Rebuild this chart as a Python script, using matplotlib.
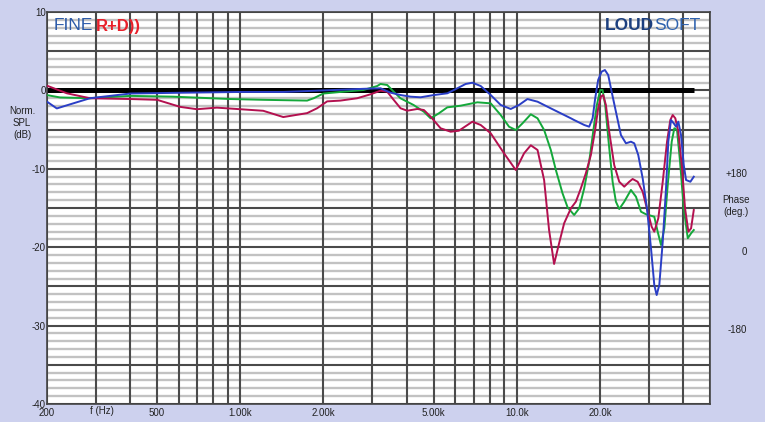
import numpy as np
import matplotlib.pyplot as plt
from matplotlib.ticker import FixedLocator, NullFormatter

plt.rcParams['font.family'] = ['Liberation Sans', 'DejaVu Sans']

# ---------- data (frequency in Hz, level in dB) ----------
ref_f = [200, 43700]
ref_db = [0, 0]

blue_f = [200, 217, 249, 286, 400, 606, 1000, 1431, 2000, 2790, 3216, 3495, 3800, 4129,
          4490, 5017, 5609, 6097, 6535, 6911, 7406, 8051, 8750, 9512, 10190, 10930,
          11890, 12920, 14050, 15700, 16130, 17540, 18280, 18810, 19220, 19700, 20270,
          20840, 21420, 22040, 22840, 23810, 24830, 25880, 26610, 27510, 28540, 29580,
          30590, 31440, 32070, 32780, 33730, 34670, 35330, 36140, 36970, 37680, 38400,
          39280, 40180, 40960, 42460, 43680]
blue_db = [-1.44, -2.3, -1.65, -1.0, -0.4, -0.3, -0.2, -0.2, 0.0, 0.2, 0.27, -0.29, -0.59, -0.80,
           -0.88, -0.59, -0.37, 0.27, 0.82, 0.98, 0.56, -0.59, -1.86, -2.37, -1.86, -1.10,
           -1.44, -2.08, -2.72, -3.56, -3.78, -4.41, -4.63, -3.56, -1.01, 1.33, 2.39,
           2.60, 1.96, -0.17, -2.72, -5.69, -6.75, -6.54, -6.75, -8.24, -11.21, -15.04,
           -20.14, -24.82, -26.1, -24.82, -19.30, -12.49, -6.54, -3.78, -4.20, -4.63, -3.99,
           -5.69, -9.52, -11.43, -11.65, -11.01]

green_f = [200, 223, 286, 400, 572, 920, 1211, 1745, 1843, 1998, 2303, 2790, 3129, 3216,
           3400, 3591, 3800, 4234, 4614, 4880, 5230, 5609, 6268, 7205, 8051, 8750, 9378,
           9917, 10490, 11240, 11890, 12560, 13280, 13850, 14640, 15270, 16130, 16820,
           17540, 18280, 18900, 19490, 20030, 20440, 20890, 21490, 22220, 22840, 23480,
           24480, 25880, 26990, 28140, 29340, 31440, 32340, 33250, 34180, 35160, 36350,
           37150, 37990, 38960, 40180, 41550, 42710, 43680]
green_db = [-0.6, -0.9, -1.0, -0.7, -0.8, -1.1, -1.2, -1.3, -1.0, -0.4, -0.2, 0.05, 0.56, 0.82,
            0.69, -0.17, -1.01, -1.86, -2.72, -3.56, -2.92, -2.16, -1.95, -1.52, -1.65, -3.14,
            -4.63, -5.05, -4.20, -3.05, -3.56, -5.05, -7.60, -10.15, -13.12, -14.91, -15.89,
            -15.04, -12.49, -9.09, -5.27, -1.86, 0.05, 0.05, -1.86, -6.54, -11.65, -14.20,
            -15.13, -14.20, -12.70, -13.56, -15.47, -15.80, -16.11, -18.02, -19.72, -17.59,
            -12.07, -6.54, -4.83, -5.05, -9.09, -15.04, -18.86, -18.23, -17.81]

red_f = [200, 236, 286, 400, 500, 606, 697, 823, 1000, 1211, 1431, 1745, 1896, 2062, 2303,
         2648, 2958, 3216, 3400, 3591, 3800, 4018, 4368, 4614, 4880, 5304, 5767, 6178,
         6911, 7406, 8051, 8995, 9917, 10630, 11240, 11890, 12560, 13090, 13650, 14230,
         14840, 15700, 16360, 17060, 17780, 18540, 19170, 19700, 20150, 20540, 21010,
         21600, 22520, 23480, 24480, 25520, 26250, 27370, 28540, 29760, 30760, 31440,
         32510, 33730, 34960, 35930, 36650, 37460, 38400, 39510, 40620, 41760, 42710, 43680]
red_db = [0.6, -0.37, -1.0, -1.1, -1.2, -2.1, -2.4, -2.2, -2.4, -2.6, -3.4, -2.9, -2.28, -1.4,
          -1.3, -1.0, -0.5, -0.04, -0.17, -1.22, -2.28, -2.59, -2.37, -2.50, -3.35, -4.83,
          -5.27, -5.14, -3.99, -4.41, -5.47, -8.02, -10.15, -8.02, -7.00, -7.60, -11.43,
          -17.81, -22.14, -19.50, -16.95, -15.04, -14.20, -12.49, -10.57, -8.24, -5.27,
          -2.28, -0.80, -0.59, -1.86, -5.27, -9.52, -11.65, -12.28, -11.65, -11.30, -11.65,
          -12.92, -15.47, -17.39, -18.02, -16.31, -11.65, -6.54, -3.78, -3.14, -3.56,
          -5.27, -9.52, -15.04, -18.02, -17.59, -15.26]

x_labels = ['200', '500', '1.00k', '2.00k', '5.00k', '10.0k', '20.0k']
x_label_f = [200, 500, 1000, 2000, 5000, 10000, 20000]
phase_labels = ['+180', '0', '-180']

# ---------- figure ----------
bg = '#cdd1ee'
W, H = 765, 422
fig = plt.figure(figsize=(W / 100, H / 100), dpi=100, facecolor=bg)
ax = fig.add_axes([47 / W, 18 / H, 663 / W, 392 / H])
ax.set_facecolor('white')
ax.set_xscale('log')
ax.set_xlim(200, 50000)
ax.set_ylim(-40, 10)

# grid: every 1 dB light, every 5 dB dark, all frequency lines dark
grid_f = list(range(200, 1000, 100)) + list(range(1000, 10000, 1000)) + list(range(10000, 50001, 10000))
ax.xaxis.set_major_locator(FixedLocator(x_label_f))
ax.xaxis.set_minor_locator(FixedLocator([f for f in grid_f if f not in x_label_f]))
ax.set_xticklabels(x_labels)
ax.xaxis.set_minor_formatter(NullFormatter())
ax.yaxis.set_major_locator(FixedLocator(np.arange(-40, 11, 5)))
ax.yaxis.set_minor_locator(FixedLocator(np.arange(-40, 11, 1)))
ax.set_yticklabels([str(v) if v % 10 == 0 else '' for v in range(-40, 11, 5)])

ax.grid(True, axis='x', which='both', color='#4a4a4a', lw=1.5)
ax.grid(True, axis='y', which='major', color='#4a4a4a', lw=1.5)
ax.grid(True, axis='y', which='minor', color='#c2c2c2', lw=1.7)
ax.set_axisbelow(True)
ax.yaxis.set_zorder(0.4)
ax.xaxis.set_zorder(0.45)
ax.tick_params(which='both', length=0, labelsize=7, colors='#222222')
ax.tick_params(axis='y', pad=1)
ax.tick_params(axis='x', pad=3)
for s in ax.spines.values():
    s.set_color('#444444')
    s.set_linewidth(1.2)

# curves
ax.plot(ref_f, ref_db, color='black', lw=3.6, solid_capstyle='butt', zorder=2)
ax.plot(green_f, green_db, color='#14a83a', lw=1.4, zorder=3, solid_joinstyle='round')
ax.plot(red_f, red_db, color='#b3104f', lw=1.4, zorder=4, solid_joinstyle='round')
ax.plot(blue_f, blue_db, color='#2a3ec6', lw=1.4, zorder=5, solid_joinstyle='round')

# extra axis texts
fig.text(102 / W, 1 - 411 / H, 'f (Hz)', ha='center', va='center', fontsize=7, color='#222222')
fig.text(22 / W, 1 - 123 / H, 'Norm.\nSPL\n(dB)', ha='center', va='center',
         fontsize=7, color='#222222', linespacing=1.2)
for lab, yp in zip(phase_labels, [174, 252, 330]):
    fig.text(747 / W, 1 - yp / H, lab, ha='right', va='center', fontsize=7, color='#222222')
fig.text(736 / W, 1 - 206 / H, 'Phase\n(deg.)', ha='center', va='center',
         fontsize=7, color='#222222', linespacing=1.2)

# logos
t1 = fig.text(54 / W, 1 - 26 / H, 'FINE', ha='left', va='center', fontsize=12.5,
              color='#2b5aa8')
ax.annotate('R+D))', xy=(1, 0.5), xycoords=t1, xytext=(2, 0), textcoords='offset points',
            ha='left', va='center', fontsize=12, color='#e8202a', fontweight='bold')
t2 = fig.text(605 / W, 1 - 26 / H, 'LOUD', ha='left', va='center', fontsize=12.5,
              color='#1c3f7e', fontweight='bold')
ax.annotate('SOFT', xy=(1, 0.5), xycoords=t2, xytext=(0, 0), textcoords='offset points',
            ha='left', va='center', fontsize=12.5, color='#2e62ae')

fig.savefig('out.png', dpi=100, facecolor=bg)
